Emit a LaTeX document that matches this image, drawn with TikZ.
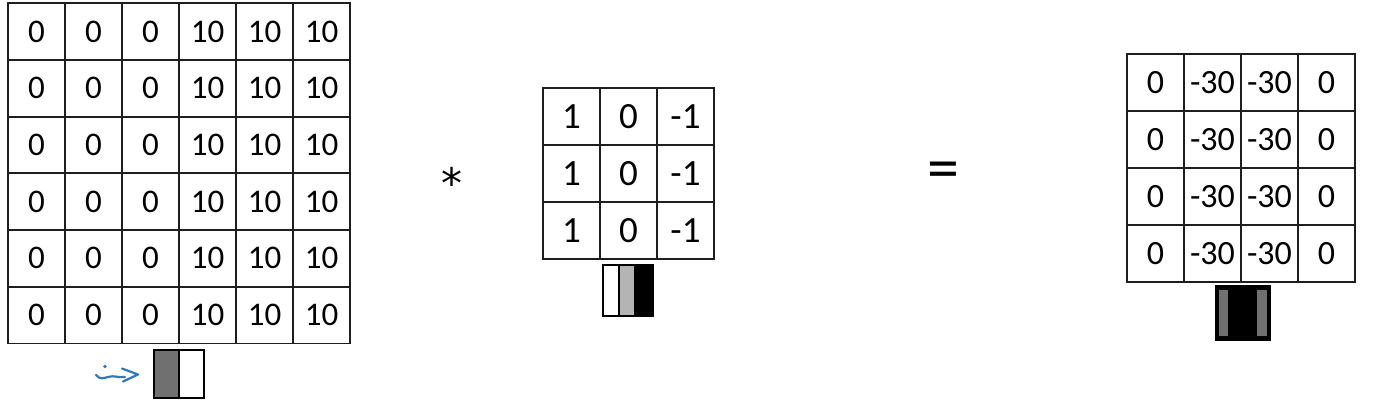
\documentclass[tikz,border=0pt]{standalone}
\usepackage{fontspec}
\setmainfont{Carlito}
\newfontfamily\symfont{DejaVu Sans}
\usetikzlibrary{arrows.meta}
\definecolor{gridline}{RGB}{30,30,30}
\definecolor{penblue}{RGB}{50,120,190}
\definecolor{midgray}{RGB}{112,112,112}
\definecolor{lightgray}{RGB}{180,180,180}
\begin{document}
\begin{tikzpicture}[x=1pt,y=-1pt,
  cell/.style={draw=gridline, line width=1.7pt, minimum size=57pt, inner sep=0pt, anchor=center},
  bigtext/.style={font=\fontsize{33}{33}\selectfont},
  hugetext/.style={font=\fontsize{37}{37}\selectfont},
  outtext/.style={font=\fontsize{34}{34}\selectfont},
  strip/.style={draw=black, line width=2.2pt},
  pen/.style={draw=penblue, line width=2.2pt, line cap=round, line join=round}]
\useasboundingbox (0,0) rectangle (1381,405);
\fill[white] (0,0) rectangle (1381,405);
% left 6x6 image
\foreach \r in {0,...,5}{
  \foreach \v [count=\c from 0] in {0,0,0,10,10,10}{
    \node[cell, bigtext] (L\r\c) at (36.5+57*\c, 31.5+56.7*\r) {\v};
  }
}
% filter 3x3
\foreach \r in {0,1,2}{
  \foreach \v [count=\c from 0] in {1,0,-1}{
    \node[cell, hugetext] (F\r\c) at (571.5+57*\c, 116.5+57*\r) {\v};
  }
}
% output 4x4
\foreach \r in {0,...,3}{
  \foreach \v [count=\c from 0] in {0,-30,-30,0}{
    \node[cell, outtext] (O\r\c) at (1155.5+57*\c, 82.5+57*\r) {\v};
  }
}
% operators
\node[font=\symfont\fontsize{42}{42}\selectfont, inner sep=0pt] (star) at (452,183) {*};
\node[font=\fontsize{64}{64}\selectfont, inner sep=0pt] (eq) at (943,176) {=};
% left small image
\fill[midgray] (154,350) rectangle (179,398);
\draw[strip] (154,350) rectangle (204,398);
\draw[strip] (179,350) -- (179,398);
% filter small image
\fill[lightgray] (619,265) rectangle (634,316);
\fill[black] (634,265) rectangle (653,316);
\draw[strip] (603,265) rectangle (653,316);
\draw[strip] (619,265) -- (619,316);
% output small image
\fill[black] (1216,286) rectangle (1270,340);
\fill[midgray] (1219,290) rectangle (1228,336);
\fill[midgray] (1257,290) rectangle (1267,336);
\draw[strip] (1216,286) rectangle (1270,340);
% blue arrow
\fill[penblue] (105,366.5) circle (1.8pt);
\draw[pen] (96,375) .. controls (100,380) and (104,378) .. (108,377) .. controls (114,375) and (118,378) .. (125,377);
\draw[pen] (122,368.5) -- (138,374.5) -- (123,381.5);
\end{tikzpicture}
\end{document}
